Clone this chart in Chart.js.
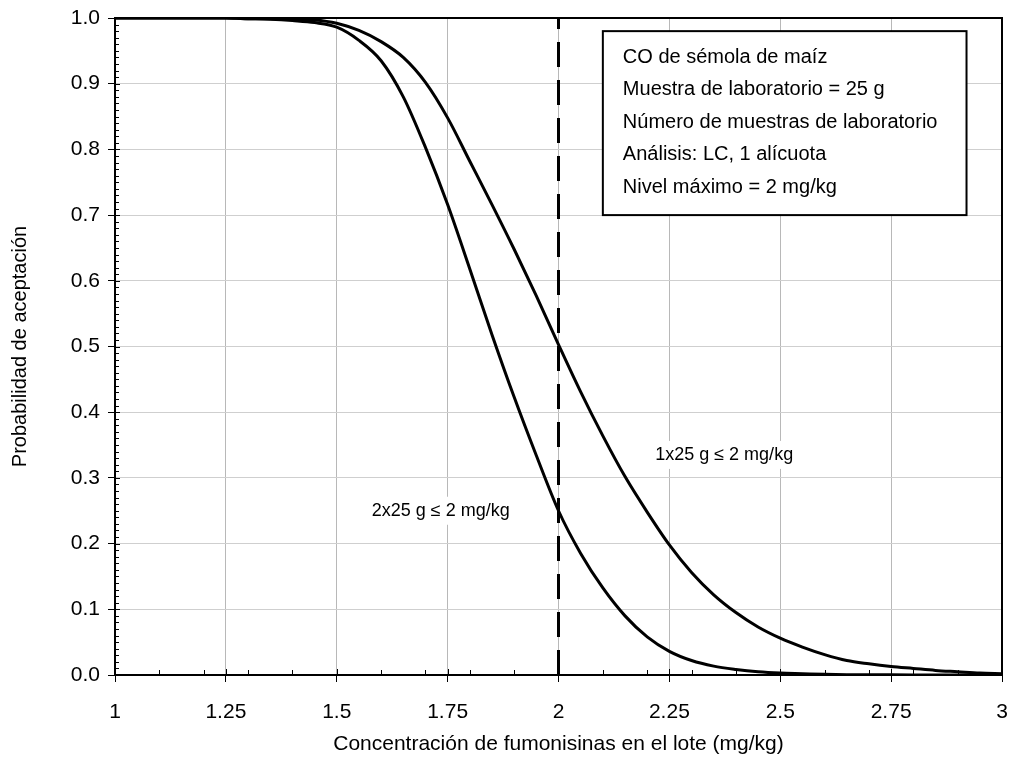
<!DOCTYPE html>
<html><head><meta charset="utf-8">
<style>html,body{margin:0;padding:0;background:#fff;}canvas{display:block;}</style>
<script src="https://cdn.jsdelivr.net/npm/chart.js@4.4.1/dist/chart.umd.min.js"></script>
</head><body>
<canvas id="c" width="1011" height="778"></canvas>
<script>
// ---- data ----
const concentrations = [1.00,1.05,1.10,1.15,1.20,1.25,1.30,1.35,1.40,1.45,1.50,1.55,1.60,1.65,1.70,1.75,1.80,1.85,1.90,1.95,2.00,2.05,2.10,2.15,2.20,2.25,2.30,2.35,2.40,2.45,2.50,2.55,2.60,2.65,2.70,2.75,2.80,2.85,2.90,2.95,3.00];
const accept1x25 = [1.000,1.000,1.000,1.000,1.000,1.000,0.999,0.999,0.998,0.997,0.992,0.981,0.964,0.940,0.902,0.848,0.782,0.716,0.648,0.577,0.503,0.431,0.364,0.302,0.248,0.198,0.156,0.122,0.095,0.073,0.056,0.0425,0.031,0.022,0.017,0.013,0.010,0.007,0.005,0.003,0.002];
const accept2x25 = [1.000,1.000,1.000,1.000,1.000,1.000,0.999,0.998,0.996,0.993,0.986,0.966,0.935,0.880,0.803,0.716,0.618,0.518,0.423,0.334,0.250,0.185,0.1325,0.090,0.058,0.036,0.022,0.0135,0.0085,0.005,0.003,0.002,0.001,0.0005,0.0003,0.0002,0.0001,0,0,0,0];
const maxLevel = 2;
const xTickLabels = ['1','1.25','1.5','1.75','2','2.25','2.5','2.75','3'];
const yTickLabels = ['0.0','0.1','0.2','0.3','0.4','0.5','0.6','0.7','0.8','0.9','1.0'];
const xTitle = 'Concentración de fumonisinas en el lote (mg/kg)';
const yTitle = 'Probabilidad de aceptación';
const infoLines = ['CO de sémola de maíz','Muestra de laboratorio = 25 g','Número de muestras de laboratorio','Análisis: LC, 1 alícuota','Nivel máximo = 2 mg/kg'];
const infoBox = {x0:2.10, x1:2.92, y0:0.98, y1:0.70};
const curveLabels = [
  {text:'1x25 g ≤ 2 mg/kg', x:2.218, y:0.335},
  {text:'2x25 g ≤ 2 mg/kg', x:1.579, y:0.250}
];

const FONT = "'Liberation Sans', Arial, sans-serif";
const pts = ys => concentrations.map((c,i)=>({x:c, y:ys[i]}));

const decor = {
  id:'decor',
  afterDatasetsDraw(chart){
    const {ctx, chartArea:a, scales:{x,y}} = chart;
    ctx.save();
    // minor ticks (inside)
    ctx.strokeStyle='#000'; ctx.lineWidth=1;
    ctx.beginPath();
    for(let k=1;k<100;k++){
      const py=Math.round(y.getPixelForValue(k/100))+0.5;
      const len = k%10===0 ? 5 : 4;
      ctx.moveTo(a.left, py); ctx.lineTo(a.left+len, py);
    }
    for(let k=1;k<20;k++){
      const px=Math.round(x.getPixelForValue(1+k/10))+0.5;
      ctx.moveTo(px, a.bottom); ctx.lineTo(px, a.bottom-5);
    }
    for(let k=1;k<8;k++){
      const px=Math.round(x.getPixelForValue(1+k*0.25))+0.5;
      ctx.moveTo(px, a.bottom); ctx.lineTo(px, a.bottom-6);
    }
    ctx.stroke();
    // plot frame (top/right)
    ctx.lineWidth=2; ctx.strokeStyle='#000';
    ctx.strokeRect(a.left, a.top, a.right-a.left, a.bottom-a.top);
    // info box
    const bx0=x.getPixelForValue(infoBox.x0), bx1=x.getPixelForValue(infoBox.x1);
    const by0=y.getPixelForValue(infoBox.y0), by1=y.getPixelForValue(infoBox.y1);
    ctx.fillStyle='#fff';
    ctx.fillRect(bx0,by0,bx1-bx0,by1-by0);
    ctx.strokeRect(bx0,by0,bx1-bx0,by1-by0);
    ctx.fillStyle='#000';
    ctx.font='20px '+FONT;
    ctx.textAlign='left'; ctx.textBaseline='middle';
    infoLines.forEach((t,i)=>ctx.fillText(t, bx0+20, by0+26+i*32.5));
    // curve labels
    ctx.font='18px '+FONT;
    curveLabels.forEach(l=>{
      const px=x.getPixelForValue(l.x), py=y.getPixelForValue(l.y);
      const w=ctx.measureText(l.text).width;
      ctx.fillStyle='#fff';
      ctx.fillRect(px-4, py-14, w+8, 28);
      ctx.fillStyle='#000';
      ctx.fillText(l.text, px, py);
    });
    ctx.restore();
  }
};

new Chart(document.getElementById('c'), {
  type:'line',
  data:{datasets:[
    {data:pts(accept1x25), borderColor:'#000', borderWidth:3, pointRadius:0, cubicInterpolationMode:'monotone', fill:false},
    {data:pts(accept2x25), borderColor:'#000', borderWidth:3, pointRadius:0, cubicInterpolationMode:'monotone', fill:false},
    {data:[{x:maxLevel,y:0},{x:maxLevel,y:1}], borderColor:'#000', borderWidth:3, borderDash:[25,13], pointRadius:0, fill:false, borderCapStyle:'butt'}
  ]},
  options:{
    responsive:false, animation:false, devicePixelRatio:1,
    layout:{padding:{top:18,right:9,left:0,bottom:0}},
    plugins:{legend:{display:false}, tooltip:{enabled:false}},
    scales:{
      x:{type:'linear', min:1, max:3,
        ticks:{stepSize:0.25, color:'#000', font:{family:FONT,size:21}, padding:18, maxRotation:0, autoSkip:false,
          callback:(v,i)=>xTickLabels[i]},
        grid:{color:'#b8b8b8', lineWidth:1, tickColor:'#000', tickLength:7, tickWidth:1},
        border:{display:true, color:'#000', width:2},
        title:{display:true, text:xTitle, color:'#000', font:{family:FONT,size:21}, padding:{top:0,bottom:21}},
        afterFit:s=>{s.height=103; s.paddingLeft=0; s.paddingRight=0;}
      },
      y:{type:'linear', min:0, max:1,
        ticks:{stepSize:0.1, color:'#000', font:{family:FONT,size:21}, padding:8, autoSkip:false,
          callback:(v,i)=>yTickLabels[i]},
        grid:{color:'#cfcfcf', lineWidth:1, tickColor:'#000', tickLength:7, tickWidth:1},
        border:{display:true, color:'#000', width:2},
        title:{display:true, text:yTitle, color:'#000', font:{family:FONT,size:20}, padding:{top:8,bottom:0}},
        afterFit:s=>{s.width=115; s.paddingTop=0; s.paddingBottom=0;}
      }
    }
  },
  plugins:[decor]
});
</script>
</body></html>
